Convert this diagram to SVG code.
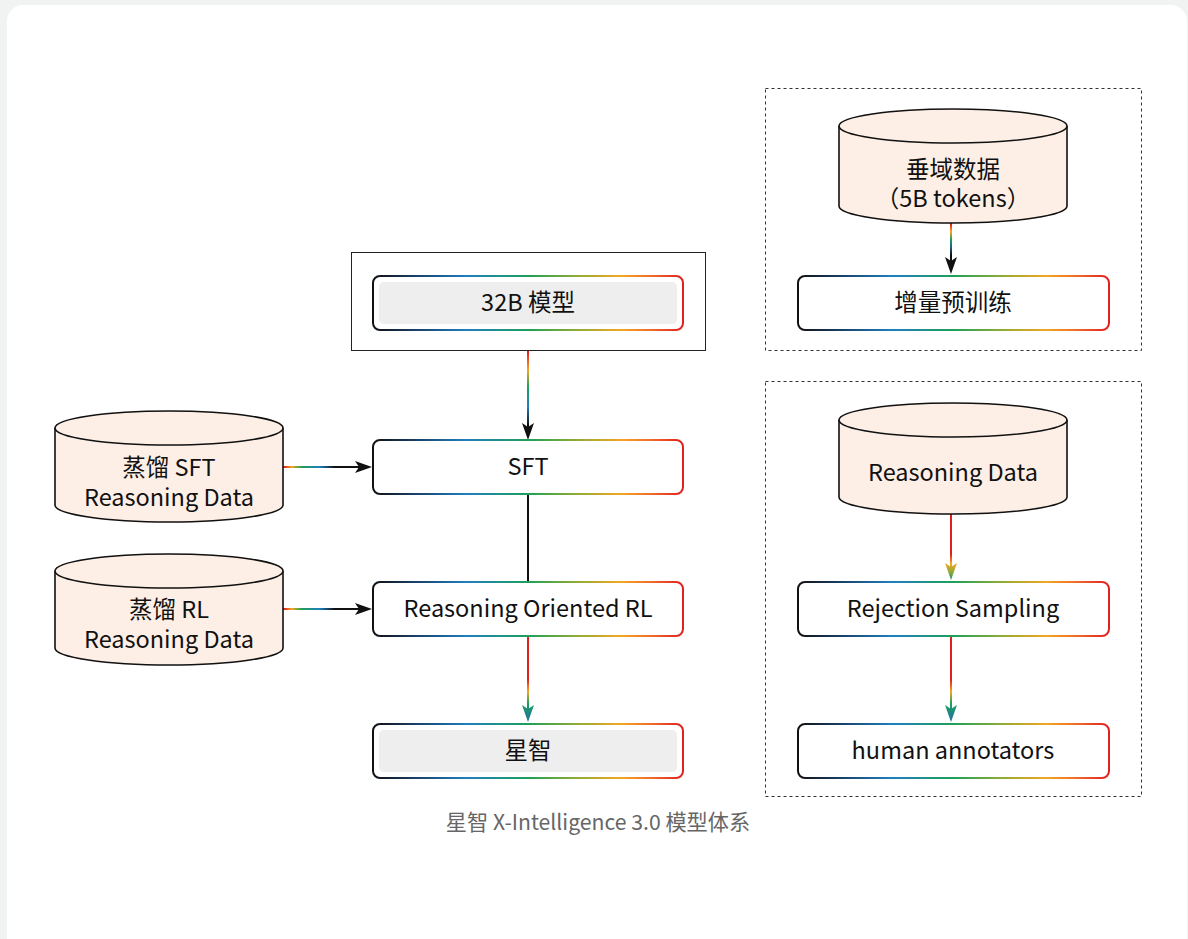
<svg xmlns="http://www.w3.org/2000/svg" width="1188" height="939" viewBox="0 0 1188 939">
<defs>
<linearGradient id="rb" x1="0" y1="0" x2="1" y2="0">
<stop offset="0" stop-color="#111111"/>
<stop offset="0.12" stop-color="#173a5e"/>
<stop offset="0.3" stop-color="#1f7fc0"/>
<stop offset="0.5" stop-color="#1da05a"/>
<stop offset="0.65" stop-color="#8cab36"/>
<stop offset="0.8" stop-color="#f5a623"/>
<stop offset="0.9" stop-color="#ef6a2a"/>
<stop offset="1" stop-color="#e0201f"/>
</linearGradient>
<linearGradient id="e1" gradientUnits="userSpaceOnUse" x1="0" y1="352" x2="0" y2="425">
<stop offset="0" stop-color="#e0201f"/>
<stop offset="0.25" stop-color="#f5a623"/>
<stop offset="0.48" stop-color="#1da05a"/>
<stop offset="0.75" stop-color="#1f7fc0"/>
<stop offset="1" stop-color="#111111"/>
</linearGradient>
<linearGradient id="e2" gradientUnits="userSpaceOnUse" x1="284" y1="0" x2="335" y2="0">
<stop offset="0" stop-color="#e0201f"/>
<stop offset="0.15" stop-color="#f5a623"/>
<stop offset="0.35" stop-color="#1da05a"/>
<stop offset="0.7" stop-color="#1f7fc0"/>
<stop offset="1" stop-color="#111111"/>
</linearGradient>
<linearGradient id="e4" gradientUnits="userSpaceOnUse" x1="0" y1="224" x2="0" y2="255">
<stop offset="0" stop-color="#e0201f"/>
<stop offset="0.25" stop-color="#f5a623"/>
<stop offset="0.5" stop-color="#1da05a"/>
<stop offset="0.75" stop-color="#1f5f90"/>
<stop offset="1" stop-color="#111111"/>
</linearGradient>
<linearGradient id="e5" gradientUnits="userSpaceOnUse" x1="0" y1="637" x2="0" y2="722">
<stop offset="0" stop-color="#e0201f"/>
<stop offset="0.5" stop-color="#e0201f"/>
<stop offset="0.64" stop-color="#f5a623"/>
<stop offset="0.78" stop-color="#1da05a"/>
<stop offset="1" stop-color="#1f6fa8"/>
</linearGradient>
<linearGradient id="e6" gradientUnits="userSpaceOnUse" x1="0" y1="515" x2="0" y2="580">
<stop offset="0" stop-color="#e0201f"/>
<stop offset="0.6" stop-color="#e0201f"/>
<stop offset="0.75" stop-color="#f5a623"/>
<stop offset="0.88" stop-color="#8cab36"/>
<stop offset="1" stop-color="#12907a"/>
</linearGradient>
<linearGradient id="e7" gradientUnits="userSpaceOnUse" x1="0" y1="637" x2="0" y2="722" href="#e5"/>
<style>
.card{fill:#ffffff}
.box{fill:#ffffff;stroke:url(#rb);stroke-width:2}
.inner{fill:#eeeeee}
.cyl{fill:#fdefe6;stroke:#111111;stroke-width:1.6}
.frame{fill:none;stroke:#222222;stroke-width:1}
.dash{fill:none;stroke:#333333;stroke-width:1;stroke-dasharray:3 3}
text{font-family:"Noto Sans CJK SC","Noto Sans",sans-serif;font-size:23.5px;fill:#111111;text-anchor:middle}
.cap{font-size:21.2px;fill:#666666}
</style>
</defs>
<rect width="1188" height="939" fill="#f1f2f2"/>
<rect class="card" x="7" y="5" width="1180" height="960" rx="16"/>

<g id="frames">
<rect class="frame" x="351.5" y="252.5" width="354" height="98"/>
<rect class="dash" x="765.5" y="88.5" width="376" height="262"/>
<rect class="dash" x="765.5" y="381.5" width="376" height="415"/>
</g>

<g id="connectors">
<line x1="528" y1="351" x2="528" y2="428" stroke="url(#e1)" stroke-width="2"/>
<path d="M522 423 L528 427 L534 423 L528 440 Z" fill="#111111"/>
<line x1="283" y1="467" x2="360" y2="467" stroke="url(#e2)" stroke-width="2"/>
<path d="M355 461 L359 467 L355 473 L372 467 Z" fill="#111111"/>
<line x1="283" y1="609" x2="360" y2="609" stroke="url(#e2)" stroke-width="2"/>
<path d="M355 603 L359 609 L355 615 L372 609 Z" fill="#111111"/>
<line x1="528" y1="494" x2="528" y2="582" stroke="#111111" stroke-width="2"/>
<line x1="528" y1="636" x2="528" y2="712" stroke="url(#e5)" stroke-width="2"/>
<path d="M522 705 L528 709 L534 705 L528 722 Z" fill="url(#e5)"/>
<line x1="951" y1="223" x2="951" y2="264" stroke="url(#e4)" stroke-width="2"/>
<path d="M945 257 L951 261 L957 257 L951 274 Z" fill="#111111"/>
<line x1="951" y1="514" x2="951" y2="570" stroke="url(#e6)" stroke-width="2"/>
<path d="M945 563 L951 567 L957 563 L951 580 Z" fill="url(#e6)"/>
<line x1="951" y1="636" x2="951" y2="712" stroke="url(#e7)" stroke-width="2"/>
<path d="M945 705 L951 709 L957 705 L951 722 Z" fill="url(#e7)"/>
</g>

<g id="n-32b">
<rect class="box" x="373" y="276" width="310" height="54" rx="7"/>
<rect class="inner" x="379" y="282" width="298" height="42" rx="5"/>
<text x="528" y="311">32B 模型</text>
</g>
<g id="n-sft">
<rect class="box" x="373" y="440" width="310" height="54" rx="7"/>
<text x="528" y="475">SFT</text>
</g>
<g id="n-rl">
<rect class="box" x="373" y="582" width="310" height="54" rx="7"/>
<text x="528" y="617">Reasoning Oriented RL</text>
</g>
<g id="n-xingzhi">
<rect class="box" x="373" y="724" width="310" height="54" rx="7"/>
<rect class="inner" x="379" y="730" width="298" height="42" rx="5"/>
<text x="528" y="759">星智</text>
</g>

<g id="n-sft-data">
<path class="cyl" d="M55 428 A114 17 0 0 1 283 428 L283 505 A114 17 0 0 1 55 505 Z"/>
<path class="cyl" fill="none" d="M55 428 A114 17 0 0 0 283 428"/>
<text x="169" y="476">蒸馏 SFT</text>
<text x="169" y="506">Reasoning Data</text>
</g>
<g id="n-rl-data">
<path class="cyl" d="M55 571 A114 17 0 0 1 283 571 L283 648 A114 17 0 0 1 55 648 Z"/>
<path class="cyl" fill="none" d="M55 571 A114 17 0 0 0 283 571"/>
<text x="169" y="618">蒸馏 RL</text>
<text x="169" y="648">Reasoning Data</text>
</g>

<g id="n-domain-data">
<path class="cyl" d="M839 126 A114 17 0 0 1 1067 126 L1067 206 A114 17 0 0 1 839 206 Z"/>
<path class="cyl" fill="none" d="M839 126 A114 17 0 0 0 1067 126"/>
<text x="953" y="178">垂域数据</text>
<text x="953" y="207">（5B tokens）</text>
</g>
<g id="n-pretrain">
<rect class="box" x="798" y="276" width="311" height="54" rx="7"/>
<text x="953" y="311">增量预训练</text>
</g>

<g id="n-reasoning-data">
<path class="cyl" d="M839 420 A114 17 0 0 1 1067 420 L1067 497 A114 17 0 0 1 839 497 Z"/>
<path class="cyl" fill="none" d="M839 420 A114 17 0 0 0 1067 420"/>
<text x="953" y="481">Reasoning Data</text>
</g>
<g id="n-rejection">
<rect class="box" x="798" y="582" width="311" height="54" rx="7"/>
<text x="953" y="617">Rejection Sampling</text>
</g>
<g id="n-human">
<rect class="box" x="798" y="724" width="311" height="54" rx="7"/>
<text x="953" y="759">human annotators</text>
</g>

<text class="cap" x="598" y="830">星智 X-Intelligence 3.0 模型体系</text>
</svg>
